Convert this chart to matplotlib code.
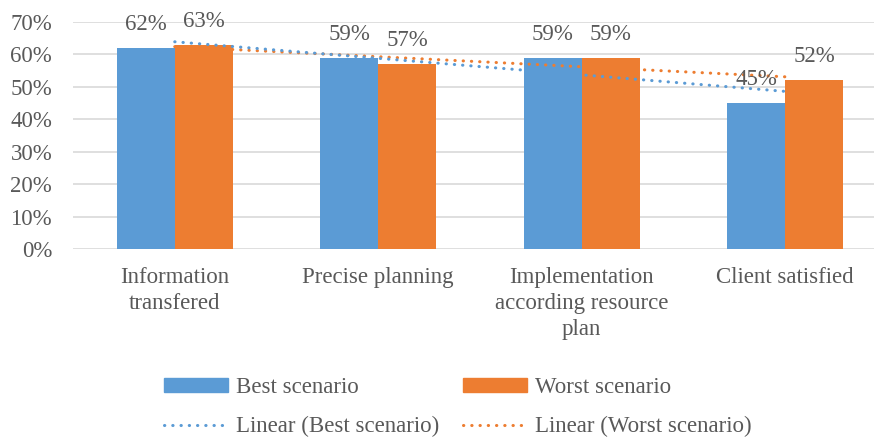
import numpy as np
import matplotlib.pyplot as plt
from matplotlib.patches import Patch
from matplotlib.lines import Line2D
from matplotlib.ticker import PercentFormatter

# dados
categorias = ["Information\ntransfered", "Precise planning",
              "Implementation\naccording resource\nplan", "Client satisfied"]
melhor = [62, 59, 59, 45]
pior = [63, 57, 59, 52]

azul = "#5B9BD5"
laranja = "#ED7D31"
cinza = "#595959"
fs = 16.5

plt.rcParams["font.family"] = ["Liberation Serif", "DejaVu Serif"]

fig = plt.figure(figsize=(8.74, 4.37), dpi=100)
ax = fig.add_axes([73 / 874, 1 - 249 / 437, 801 / 874, 227 / 437])

x = np.arange(len(categorias))
larg = 0.285
b1 = ax.bar(x - larg / 2, melhor, larg, color=azul, zorder=2)
b2 = ax.bar(x + larg / 2, pior, larg, color=laranja, zorder=2)

for barras, vals in [(b1, melhor), (b2, pior)]:
    for b, v in zip(barras, vals):
        ax.annotate("%d%%" % v, (b.get_x() + b.get_width() / 2, v),
                    xytext=(0, 13), textcoords="offset pixels",
                    ha="center", va="bottom", fontsize=fs, color=cinza, zorder=4)

# linhas de tendencia (linear, como no Excel)
xs = np.arange(1, len(categorias) + 1)
estilo = dict(linestyle=(0, (0.1, 2.6)), linewidth=2.2, dash_capstyle="round", zorder=3)
for vals, cor in [(pior, laranja), (melhor, azul)]:
    a, c = np.polyfit(xs, vals, 1)
    ax.plot(x, a * xs + c, color=cor, **estilo)

ax.set_ylim(0, 70)
ax.set_xlim(-0.5, -0.5 + 801 / 203.5)
ax.set_yticks(range(0, 71, 10))
ax.yaxis.set_major_formatter(PercentFormatter(decimals=0))
ax.set_xticks(x)
ax.set_xticklabels(categorias, linespacing=1.32)
ax.tick_params(axis="both", length=0, labelsize=fs, colors=cinza)
ax.tick_params(axis="y", pad=15)
ax.tick_params(axis="x", pad=13)
ax.grid(axis="y", color="#D9D9D9", linewidth=1.2, zorder=0)
for s in ax.spines.values():
    s.set_visible(False)

handles = [Patch(color=azul), Line2D([], [], color=azul, **estilo),
           Patch(color=laranja), Line2D([], [], color=laranja, **estilo)]
labels = ["Best scenario", "Linear (Best scenario)",
          "Worst scenario", "Linear (Worst scenario)"]
leg = fig.legend(handles, labels, ncol=2, loc="lower left",
                 bbox_to_anchor=(155 / 874, -0.022), frameon=False, fontsize=fs,
                 handlelength=2.8, handleheight=0.55, handletextpad=0.35,
                 columnspacing=1.0, labelspacing=0.78, borderaxespad=0.0)
for t in leg.get_texts():
    t.set_color(cinza)

fig.savefig("out.png", dpi=100)
